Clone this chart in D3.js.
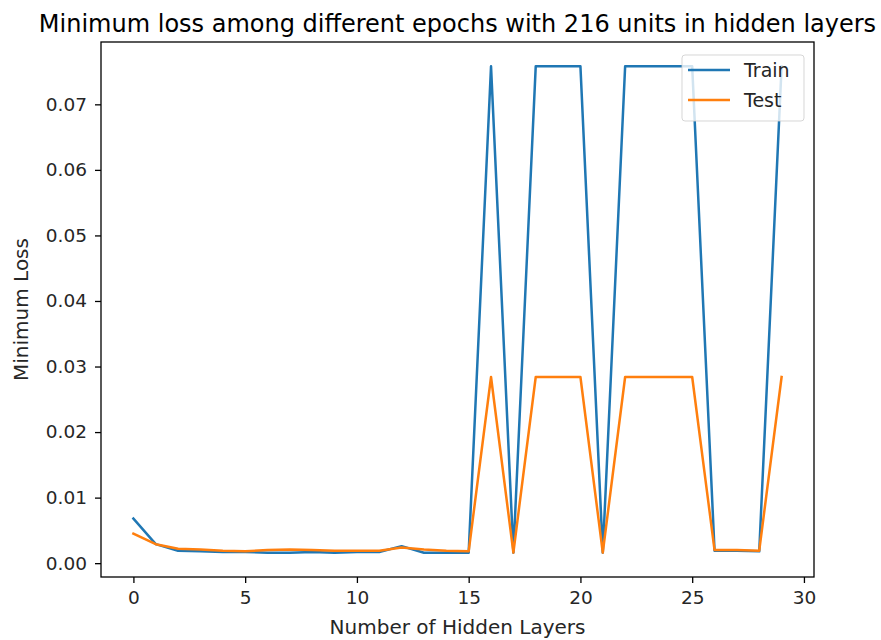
<!DOCTYPE html>
<html>
<head>
<meta charset="utf-8">
<script src="https://cdn.jsdelivr.net/npm/d3@7"></script>
<style>
  html, body { margin: 0; padding: 0; background: #fff; }
  svg { display: block; font-family: "DejaVu Sans", sans-serif; }
</style>
</head>
<body>
<svg id="chart" width="881" height="640"></svg>
<script>
// Number of hidden layers (x values)
const layers = d3.range(0, 30);

// Minimum training loss per hidden-layer count
const trainLoss = [
  0.0068, 0.0029, 0.0019, 0.0018, 0.0017, 0.0017, 0.0016, 0.0016, 0.0017, 0.0016,
  0.0017, 0.0017, 0.0026, 0.0016, 0.0016, 0.0016, 0.0758, 0.0016, 0.0758, 0.0758,
  0.0758, 0.0016, 0.0758, 0.0758, 0.0758, 0.0758, 0.0019, 0.0019, 0.0018, 0.0758
];

// Minimum test loss per hidden-layer count
const testLoss = [
  0.0045, 0.0029, 0.0022, 0.0021, 0.0019, 0.0018, 0.0020, 0.0021, 0.0020, 0.0019,
  0.0019, 0.0019, 0.0024, 0.0021, 0.0019, 0.0018, 0.0284, 0.0016, 0.0284, 0.0284,
  0.0284, 0.0016, 0.0284, 0.0284, 0.0284, 0.0284, 0.0020, 0.0020, 0.0019, 0.0284
];

const xTicks = [0, 5, 10, 15, 20, 25, 30];
const yTicks = [0.00, 0.01, 0.02, 0.03, 0.04, 0.05, 0.06, 0.07];

const seriesNames = ["Train", "Test"];
const seriesColors = ["#1f77b4", "#ff7f0e"];

const svg = d3.select("#chart");
const plot = { left: 101, right: 814, top: 42, bottom: 577 };
const tickFont = "18.5px";
const labelFont = "20px";
const titleFont = "24px";

// 5% padding around the data extent on both axes
const xExt = d3.extent(layers);
const xPad = (xExt[1] - xExt[0]) * 0.05;
const allY = trainLoss.concat(testLoss);
const yExt = d3.extent(allY);
const yPad = (yExt[1] - yExt[0]) * 0.05;

const x = d3.scaleLinear().domain([xExt[0] - xPad, xExt[1] + xPad]).range([plot.left, plot.right]);
const y = d3.scaleLinear().domain([yExt[0] - yPad, yExt[1] + yPad]).range([plot.bottom, plot.top]);

// Lines
const line = d3.line().x((d, i) => x(layers[i])).y(d => y(d));
[trainLoss, testLoss].forEach((s, k) => {
  svg.append("path")
    .datum(s)
    .attr("d", line)
    .attr("fill", "none")
    .attr("stroke", seriesColors[k])
    .attr("stroke-width", 2.5)
    .attr("stroke-linejoin", "round")
    .attr("stroke-linecap", "square");
});

// Axes
const xAxis = d3.axisBottom(x).tickValues(xTicks).tickFormat(d3.format("d")).tickSizeOuter(0).tickSize(6).tickPadding(8);
const yAxis = d3.axisLeft(y).tickValues(yTicks).tickFormat(d3.format(".2f")).tickSizeOuter(0).tickSize(6).tickPadding(8);

const gx = svg.append("g").attr("transform", `translate(0,${plot.bottom})`).call(xAxis);
const gy = svg.append("g").attr("transform", `translate(${plot.left},0)`).call(yAxis);
[gx, gy].forEach(g => {
  g.select(".domain").remove();
  g.selectAll(".tick line").attr("stroke", "#000").attr("stroke-width", 1.3);
  g.selectAll(".tick text").attr("fill", "#262626").style("font-size", tickFont).style("font-family", "DejaVu Sans, sans-serif");
});

// Frame
svg.append("rect")
  .attr("x", plot.left).attr("y", plot.top)
  .attr("width", plot.right - plot.left).attr("height", plot.bottom - plot.top)
  .attr("fill", "none").attr("stroke", "#000").attr("stroke-width", 1.3);

// Title and axis labels
svg.append("text")
  .attr("x", (plot.left + plot.right) / 2).attr("y", 32)
  .attr("text-anchor", "middle").attr("fill", "#000")
  .style("font-size", titleFont)
  .text("Minimum loss among different epochs with 216 units in hidden layers");

svg.append("text")
  .attr("x", (plot.left + plot.right) / 2).attr("y", 634)
  .attr("text-anchor", "middle").attr("fill", "#262626")
  .style("font-size", labelFont)
  .text("Number of Hidden Layers");

svg.append("text")
  .attr("transform", `translate(28,${(plot.top + plot.bottom) / 2}) rotate(-90)`)
  .attr("text-anchor", "middle").attr("fill", "#262626")
  .style("font-size", labelFont)
  .text("Minimum Loss");

// Legend
const lg = svg.append("g").attr("transform", "translate(682,55)");
lg.append("rect")
  .attr("width", 122).attr("height", 66).attr("rx", 3)
  .attr("fill", "#fff").attr("fill-opacity", 0.8)
  .attr("stroke", "#cccccc").attr("stroke-opacity", 0.8);
seriesNames.forEach((name, i) => {
  const yy = 15 + i * 30;
  lg.append("line")
    .attr("x1", 6).attr("x2", 48).attr("y1", yy).attr("y2", yy)
    .attr("stroke", seriesColors[i]).attr("stroke-width", 2.5);
  lg.append("text")
    .attr("x", 62).attr("y", yy + 7)
    .attr("fill", "#262626")
    .style("font-size", "19px")
    .text(name);
});
</script>
</body>
</html>
